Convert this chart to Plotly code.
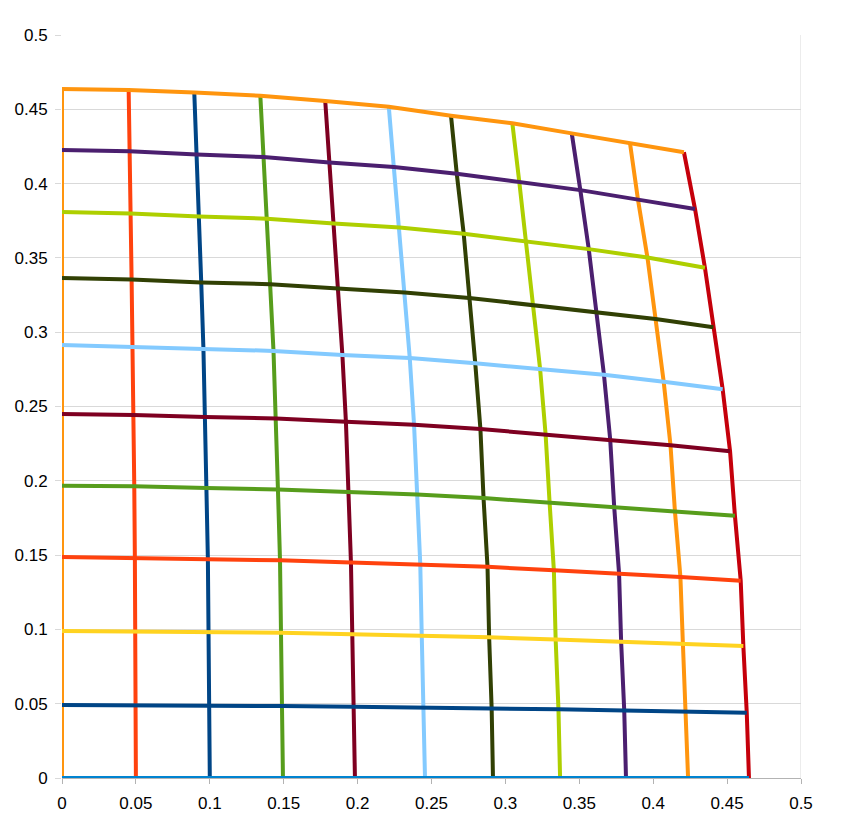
import plotly.graph_objects as go

# x coordinate of grid point i on horizontal curve j (one list per curve)
x_row0 = [0, 0.0500, 0.1000, 0.1495, 0.1982, 0.2456, 0.2916, 0.3370, 0.3816, 0.4236, 0.4648]
x_row1 = [0, 0.0499, 0.0997, 0.1490, 0.1976, 0.2448, 0.2907, 0.3359, 0.3804, 0.4222, 0.4633]
x_row2 = [0, 0.0496, 0.0991, 0.1482, 0.1964, 0.2434, 0.2890, 0.3340, 0.3783, 0.4201, 0.4610]
x_row3 = [0, 0.0493, 0.0987, 0.1475, 0.1955, 0.2424, 0.2879, 0.3328, 0.3769, 0.4184, 0.4592]
x_row4 = [0, 0.0489, 0.0977, 0.1461, 0.1937, 0.2402, 0.2852, 0.3299, 0.3736, 0.4147, 0.4553]
x_row5 = [0, 0.0485, 0.0969, 0.1449, 0.1921, 0.2382, 0.2831, 0.3272, 0.3709, 0.4117, 0.4520]
x_row6 = [0, 0.0479, 0.0957, 0.1431, 0.1897, 0.2353, 0.2796, 0.3235, 0.3667, 0.4071, 0.4470]
x_row7 = [0, 0.0471, 0.0942, 0.1408, 0.1867, 0.2318, 0.2756, 0.3188, 0.3614, 0.4016, 0.4407]
x_row8 = [0, 0.0464, 0.0928, 0.1387, 0.1839, 0.2284, 0.2718, 0.3144, 0.3564, 0.3961, 0.4350]
x_row9 = [0, 0.0456, 0.0912, 0.1363, 0.1808, 0.2245, 0.2671, 0.3094, 0.3507, 0.3897, 0.4283]
x_row10 = [0, 0.0451, 0.0895, 0.1342, 0.1781, 0.2211, 0.2632, 0.3047, 0.3449, 0.3843, 0.4208]

# y coordinate of grid point i on horizontal curve j
y_row0 = [0, 0, 0, 0, 0, 0, 0, 0, 0, 0, 0]
y_row1 = [0.0491, 0.0490, 0.0487, 0.0484, 0.0480, 0.0476, 0.0470, 0.0462, 0.0455, 0.0447, 0.0439]
y_row2 = [0.0990, 0.0987, 0.0981, 0.0977, 0.0967, 0.0959, 0.0947, 0.0932, 0.0918, 0.0902, 0.0888]
y_row3 = [0.1487, 0.1480, 0.1472, 0.1465, 0.1451, 0.1439, 0.1421, 0.1398, 0.1377, 0.1353, 0.1328]
y_row4 = [0.1967, 0.1963, 0.1951, 0.1942, 0.1924, 0.1908, 0.1884, 0.1854, 0.1826, 0.1795, 0.1765]
y_row5 = [0.2450, 0.2443, 0.2429, 0.2419, 0.2397, 0.2377, 0.2348, 0.2313, 0.2279, 0.2240, 0.2199]
y_row6 = [0.2914, 0.2902, 0.2885, 0.2874, 0.2847, 0.2826, 0.2791, 0.2751, 0.2713, 0.2666, 0.2616]
y_row7 = [0.3365, 0.3354, 0.3335, 0.3323, 0.3294, 0.3267, 0.3230, 0.3183, 0.3139, 0.3089, 0.3033]
y_row8 = [0.3809, 0.3799, 0.3778, 0.3764, 0.3731, 0.3704, 0.3662, 0.3609, 0.3559, 0.3502, 0.3434]
y_row9 = [0.4226, 0.4217, 0.4196, 0.4179, 0.4142, 0.4112, 0.4066, 0.4011, 0.3956, 0.3892, 0.3829]
y_row10 = [0.4637, 0.4630, 0.4613, 0.4591, 0.4556, 0.4517, 0.4457, 0.4406, 0.4338, 0.4271, 0.4211]

horiz_colors = ["#0084d1", "#004586", "#ffd320", "#ff420e", "#579d1c", "#7e0021",
                "#83caff", "#314004", "#aecf00", "#4b1f6f", "#ff950e"]
vert_colors = ["#ff950e", "#ff420e", "#004586", "#579d1c", "#7e0021", "#83caff",
               "#314004", "#aecf00", "#4b1f6f", "#ff950e", "#c5000b"]

tick_vals = [0, 0.05, 0.1, 0.15, 0.2, 0.25, 0.3, 0.35, 0.4, 0.45, 0.5]
tick_text = ["0", "0.05", "0.1", "0.15", "0.2", "0.25", "0.3", "0.35", "0.4", "0.45", "0.5"]

x_rows = [x_row0, x_row1, x_row2, x_row3, x_row4, x_row5, x_row6, x_row7, x_row8, x_row9, x_row10]
y_rows = [y_row0, y_row1, y_row2, y_row3, y_row4, y_row5, y_row6, y_row7, y_row8, y_row9, y_row10]

fig = go.Figure()

# vertical curves (columns)
n = len(x_row0)
for i in range(n):
    fig.add_trace(go.Scatter(
        x=[r[i] for r in x_rows], y=[r[i] for r in y_rows],
        mode="lines", line=dict(color=vert_colors[i], width=4),
        showlegend=False, hoverinfo="skip"))

# horizontal curves (rows)
for j in range(len(x_rows)):
    fig.add_trace(go.Scatter(
        x=x_rows[j], y=y_rows[j],
        mode="lines", line=dict(color=horiz_colors[j], width=4),
        showlegend=False, hoverinfo="skip"))

fig.add_shape(type="line", xref="x", yref="y", x0=0.5, x1=0.5, y0=0, y1=0.5,
              line=dict(color="#d9d9d9", width=1), layer="below")

fig.update_layout(
    width=838, height=814,
    margin=dict(l=54, r=45, t=27, b=44),
    paper_bgcolor="white", plot_bgcolor="white",
    font=dict(family="Liberation Sans, Arial, sans-serif", size=17, color="#000000"),
    xaxis=dict(range=[0, 0.5], tickvals=tick_vals, ticktext=tick_text,
               showgrid=False, zeroline=False, automargin=False,
               showline=True, linecolor="#b3b3b3", linewidth=1,
               ticks="outside", ticklen=5, tickcolor="#b3b3b3",
               ticklabelstandoff=5),
    yaxis=dict(range=[0, 0.5], tickvals=tick_vals, ticktext=tick_text,
               showgrid=True, gridcolor="#d9d9d9", gridwidth=1, zeroline=False,
               showline=False, automargin=False,
               ticks="outside", ticklen=6, tickcolor="#d9d9d9",
               ticklabelstandoff=4),
)

fig.write_html("out.html")
